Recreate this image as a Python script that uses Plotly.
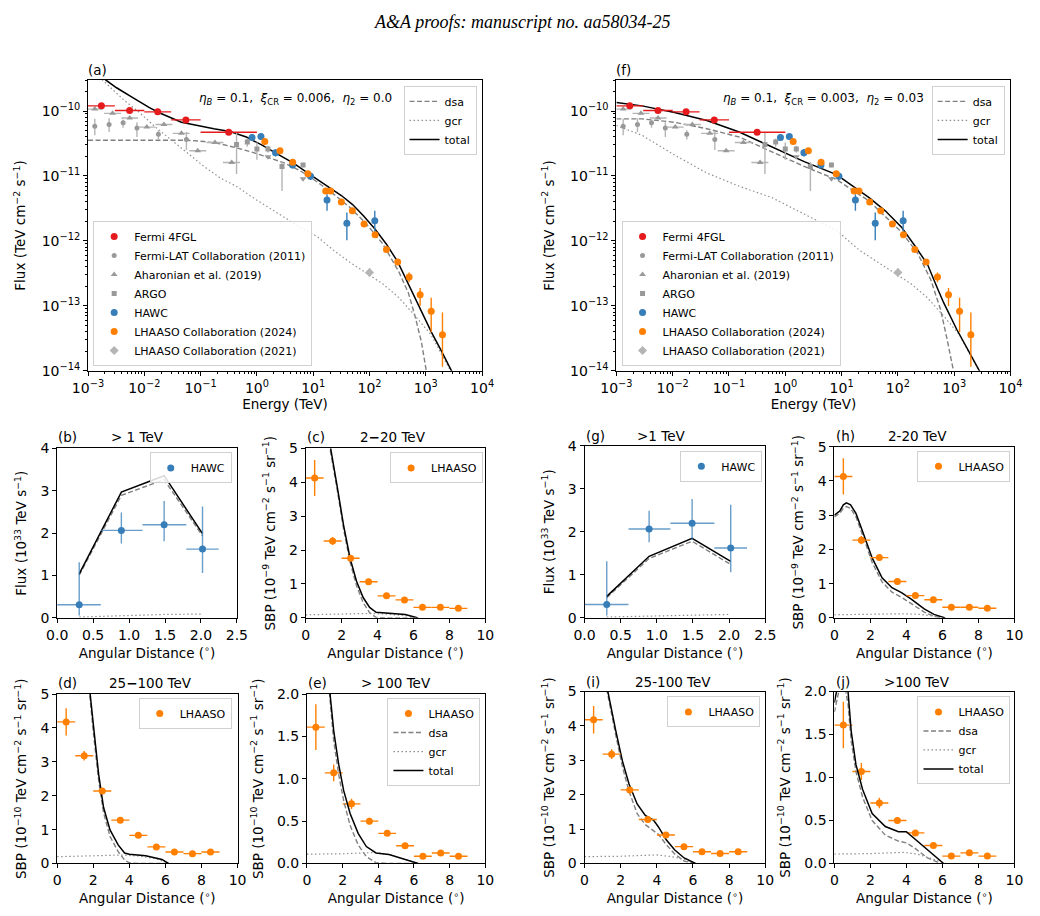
import plotly.graph_objects as go

W, H = 1040, 916
FONT = "DejaVu Sans"

# ---------------- SED data (E in TeV, flux in TeV cm^-2 s^-1) ----------------
fermi4fgl_E = [0.00173, 0.00548, 0.0173, 0.0548, 0.316]
fermi4fgl_Elo = [0.001, 0.003, 0.01, 0.03, 0.1]
fermi4fgl_Ehi = [0.003, 0.01, 0.03, 0.1, 1.0]
fermi4fgl_F = [1.20e-10, 1.02e-10, 0.97e-10, 7.3e-11, 4.7e-11]

fermilat11_E = [1.32e-3, 2.37e-3, 4.2e-3, 7.4e-3, 1.78e-2, 5.6e-2]
fermilat11_F = [5.85e-11, 6.2e-11, 6.6e-11, 5.5e-11, 4.4e-11, 3.64e-11]
fermilat11_Fhi = [7.57e-11, 7.73e-11, 7.38e-11, 6.71e-11, 5.04e-11, 4.74e-11]
fermilat11_Flo = [4.23e-11, 4.74e-11, 5.52e-11, 3.98e-11, 3.64e-11, 2.5e-11]

aharonian_E = [1.32e-3, 2.73e-3, 5.5e-3, 1.11e-2, 2.23e-2, 4.56e-2, 8.9e-2, 0.18, 0.357]
aharonian_Elo = [0.93e-3, 1.93e-3, 3.9e-3, 7.9e-3, 1.58e-2, 3.2e-2, 6.3e-2, 0.127, 0.25]
aharonian_Ehi = [1.86e-3, 3.86e-3, 7.8e-3, 1.57e-2, 3.15e-2, 6.4e-2, 0.126, 0.254, 0.50]
aharonian_F = [1.07e-10, 9.2e-11, 7.8e-11, 5.65e-11, 6.2e-11, 4.53e-11, 2.44e-11, 3.27e-11, 1.61e-11]

argo_E = [0.435, 0.675, 1.0, 1.57, 2.79, 6.6]
argo_F = [3.05e-11, 3.34e-11, 2.6e-11, 2.6e-11, 1.4e-11, 1.48e-11]
argo_Fhi = [4.74e-11, 3.77e-11, 3.27e-11, 2.93e-11, 1.66e-11, 1.6e-11]
argo_Flo = [1.07e-11, 2.82e-11, 1.77e-11, 2.29e-11, 5.85e-12, 1.36e-11]
argo_ul_E = [1.57, 6.6]
argo_ul_F = [1.98e-11, 9.1e-12]

hawc_E = [0.82, 1.18, 2.14, 4.3, 8.97, 17.6, 39.6, 124]
hawc_F = [3.9e-11, 4.04e-11, 2.28e-11, 1.48e-11, 9.9e-12, 4.27e-12, 1.87e-12, 2.05e-12]
hawc_Fhi = [4.4e-11, 4.5e-11, 2.6e-11, 1.7e-11, 1.12e-11, 5.21e-12, 2.75e-12, 2.91e-12]
hawc_Flo = [3.45e-11, 3.6e-11, 2.0e-11, 1.3e-11, 8.7e-12, 2.91e-12, 1.02e-12, 1.29e-12]

lhaaso24_E = [1.38, 2.57, 4.32, 8.05, 16.7, 20.4, 31.6, 49.6, 80, 125.6, 200, 317, 505, 793, 1247, 1977]
lhaaso24_F = [3.39e-11, 2.44e-11, 1.63e-11, 1.08e-11, 5.85e-12, 5.85e-12, 3.98e-12, 2.91e-12,
              1.83e-12, 1.24e-12, 7.38e-13, 4.74e-13, 2.78e-13, 1.48e-13, 8.28e-14, 3.59e-14]
lhaaso24_Fhi = [3.5e-11, 2.52e-11, 1.68e-11, 1.11e-11, 6.0e-12, 6.0e-12, 4.1e-12, 3.0e-12,
                1.9e-12, 1.3e-12, 7.8e-13, 5.1e-13, 3.27e-13, 1.89e-13, 1.34e-13, 7.9e-14]
lhaaso24_Flo = [3.28e-11, 2.36e-11, 1.58e-11, 1.05e-11, 5.7e-12, 5.7e-12, 3.86e-12, 2.82e-12,
                1.76e-12, 1.18e-12, 6.96e-13, 4.4e-13, 2.31e-13, 1.0e-13, 3.93e-14, 1.16e-14]

lhaaso21_E = [100.0]
lhaaso21_F = [3.27e-13]
lhaaso21_Fhi = [3.8e-13]
lhaaso21_Flo = [2.8e-13]

# ---------------- SED models ----------------
a_total_E = [2.02e-3, 3.21e-3, 6.24e-3, 1.21e-2, 1.80e-2, 4.56e-2, 0.172, 0.333, 0.649, 1.26, 2.51,
             4.47, 7.94, 15.8, 31.6, 50.1, 79.4, 126, 200, 316, 501, 641, 794, 1250, 1860, 2750, 2950]
a_total_F = [3.05e-10, 2.28e-10, 1.61e-10, 1.135e-10, 9.5e-11, 6.7e-11, 5.33e-11, 4.85e-11, 3.98e-11,
             2.95e-11, 2.09e-11, 1.58e-11, 1.12e-11, 7.4e-12, 5.0e-12, 3.63e-12, 2.4e-12, 1.51e-12,
             8.9e-13, 4.79e-13, 2.09e-13, 1.32e-13, 8.9e-14, 3.98e-14, 2.09e-14, 1.07e-14, 9.5e-15]
a_dsa_E = [1.0e-3, 5.96e-2, 0.115, 0.224, 0.436, 0.843, 1.64, 3.18, 6.17, 12.0, 23.3, 45.1,
           87.7, 171, 330, 491, 641, 836, 1021]
a_dsa_F = [3.55e-11, 3.55e-11, 3.39e-11, 3.12e-11, 2.71e-11, 2.31e-11, 1.91e-11, 1.57e-11, 1.17e-11,
           8.0e-12, 5.21e-12, 3.27e-12, 1.83e-12, 9.1e-13, 3.39e-13, 1.58e-13, 7.05e-14, 2.78e-14, 1.0e-14]
a_gcr_E = [1.77e-3, 4.19e-3, 8.15e-3, 1.58e-2, 3.06e-2, 5.96e-2, 0.115, 0.224, 0.436, 0.843, 1.64,
           3.18, 6.17, 12.0, 23.3, 44.7, 87.7, 171, 330, 641, 1250, 1860, 2750]
a_gcr_F = [3.05e-10, 1.52e-10, 9.5e-11, 5.65e-11, 3.55e-11, 2.23e-11, 1.40e-11, 9.3e-12, 6.9e-12,
           4.65e-12, 3.27e-12, 2.31e-12, 1.58e-12, 1.15e-12, 7.1e-13, 4.7e-13, 3.2e-13, 2.19e-13,
           1.35e-13, 7.1e-14, 3.55e-14, 1.9e-14, 1.0e-14]

f_total_E = [1.0e-3, 2.85e-3, 1.08e-2, 4.05e-2, 0.152, 0.575, 2.17, 8.15, 15.8, 30.8, 59.7, 116, 197,
             335, 499, 650, 1107, 1648, 2820, 3000]
f_total_F = [1.35e-10, 1.20e-10, 9.5e-11, 7.13e-11, 4.74e-11, 2.81e-11, 1.66e-11, 1.05e-11, 6.95e-12,
             4.65e-12, 2.91e-12, 1.63e-12, 8.6e-13, 4.37e-13, 1.9e-13, 1.12e-13, 4.37e-14, 2.34e-14,
             1.0e-14, 9.0e-15]
f_dsa_E = [1.0e-3, 2.85e-3, 1.08e-2, 4.05e-2, 0.152, 0.575, 2.17, 8.15, 30.8, 116, 225, 384, 571, 745, 971]
f_dsa_F = [7.57e-11, 7.57e-11, 6.71e-11, 5.33e-11, 3.98e-11, 2.36e-11, 1.4e-11, 8.8e-12, 4.12e-12,
           1.37e-12, 6.43e-13, 2.53e-13, 8.87e-14, 3.12e-14, 1.0e-14]
f_gcr_E = [1.0e-3, 2.85e-3, 1.08e-2, 4.05e-2, 0.152, 0.575, 2.17, 8.15, 20.7, 44.7, 87.7, 171, 330,
           641, 1250, 1860, 2750]
f_gcr_F = [5.98e-11, 4.23e-11, 2.1e-11, 1.11e-11, 6.95e-12, 4.65e-12, 2.59e-12, 1.45e-12, 7.2e-13,
           4.7e-13, 3.2e-13, 2.19e-13, 1.35e-13, 7.1e-14, 3.55e-14, 1.9e-14, 1.0e-14]

# ---------------- Profile data ----------------
hawc_r = [0.307, 0.893, 1.488, 2.022]
hawc_r_lo = [0.0, 0.608, 1.187, 1.796]
hawc_r_hi = [0.607, 1.187, 1.796, 2.247]
hawc_prof = [0.311, 2.065, 2.197, 1.624]
hawc_prof_hi = [1.315, 2.49, 2.76, 2.63]
hawc_prof_lo = [0.056, 1.756, 1.81, 1.06]

lh_r = [0.5, 1.5, 2.5, 3.5, 4.5, 5.5, 6.5, 7.5, 8.5]
lh_r_err = [0.5, 0.5, 0.5, 0.5, 0.5, 0.5, 0.5, 0.5, 0.5]
lh_2_20 = [4.13, 2.27, 1.76, 1.064, 0.65, 0.53, 0.31, 0.31, 0.28]
lh_2_20_err = [0.53, 0.12, 0.06, 0.05, 0.04, 0.04, 0.03, 0.03, 0.03]
lh_25_100 = [4.18, 3.18, 2.14, 1.28, 0.83, 0.49, 0.34, 0.29, 0.34]
lh_25_100_err = [0.4, 0.14, 0.08, 0.06, 0.05, 0.05, 0.05, 0.05, 0.05]
lh_100 = [1.61, 1.07, 0.704, 0.5, 0.356, 0.209, 0.086, 0.124, 0.086]
lh_100_err = [0.27, 0.1, 0.06, 0.04, 0.03, 0.03, 0.02, 0.02, 0.02]

# ---------------- Profile models ----------------
b_x = [0.307, 0.893, 1.488, 2.022]
b_total = [1.037, 2.97, 3.357, 1.988]
b_dsa = [1.007, 2.893, 3.264, 1.935]
b_gcr = [0.02, 0.05, 0.08, 0.09]
g_total = [0.5, 1.43, 1.85, 1.31]
g_dsa = [0.47, 1.38, 1.78, 1.24]
g_gcr = [0.02, 0.04, 0.07, 0.08]

c_tot_x = [1.25, 1.39, 1.75, 2.11, 2.47, 2.83, 3.2, 3.56, 3.92, 4.5, 5.54, 6.26]
c_tot_y = [5.6, 5.0, 3.89, 2.73, 1.76, 1.08, 0.6, 0.31, 0.165, 0.14, 0.1, 0.0]
c_dsa_x = [1.22, 1.35, 1.75, 2.11, 2.47, 2.83, 3.2, 3.56, 3.92, 4.5, 6.2]
c_dsa_y = [5.6, 5.0, 3.8, 2.62, 1.65, 0.95, 0.45, 0.15, 0.01, 0.0, 0.0]
c_gcr_x = [0, 2, 3.6, 4.5, 5.5, 6.2]
c_gcr_y = [0.09, 0.11, 0.13, 0.11, 0.07, 0.0]

d_tot_x = [1.75, 1.82, 2.03, 2.3, 2.57, 2.93, 3.38, 3.74, 4.0, 4.91, 5.81, 6.17]
d_tot_y = [5.4, 5.0, 3.98, 2.63, 1.66, 0.99, 0.55, 0.31, 0.27, 0.23, 0.12, 0.0]
d_dsa_x = [1.73, 1.8, 2.0, 2.3, 2.57, 2.93, 3.38, 3.74, 4.0, 4.5, 6.2]
d_dsa_y = [5.4, 5.0, 3.9, 2.45, 1.5, 0.8, 0.35, 0.1, 0.02, 0.0, 0.0]
d_gcr_x = [0, 2, 3.6, 4.5, 5.5, 6.2]
d_gcr_y = [0.2, 0.22, 0.25, 0.22, 0.14, 0.0]

e_tot_x = [1.2, 1.29, 1.51, 1.78, 2.06, 2.42, 2.87, 3.33, 3.87, 4.6, 5.51, 6.24]
e_tot_y = [2.2, 2.0, 1.55, 1.17, 0.86, 0.59, 0.356, 0.2, 0.124, 0.105, 0.046, 0.0]
e_dsa_x = [1.18, 1.27, 1.5, 1.78, 2.06, 2.42, 2.87, 3.33, 3.87, 4.5, 6.2]
e_dsa_y = [2.2, 2.0, 1.45, 1.05, 0.74, 0.45, 0.22, 0.08, 0.01, 0.0, 0.0]
e_gcr_x = [0, 2, 3.8, 4.6, 5.5, 6.2]
e_gcr_y = [0.11, 0.115, 0.13, 0.105, 0.05, 0.0]

h_tot_x = [0, 0.3, 0.5, 0.67, 0.9, 1.2, 1.57, 2.1, 2.65, 3.2, 3.73, 4.27, 4.99, 5.53, 6.16]
h_tot_y = [3.0, 3.12, 3.3, 3.36, 3.3, 3.05, 2.52, 1.75, 1.17, 0.88, 0.74, 0.55, 0.26, 0.1, 0.0]
h_dsa_x = [0, 0.3, 0.5, 0.67, 0.9, 1.2, 1.57, 2.1, 2.65, 3.2, 3.73, 4.27, 4.99, 5.53, 6.1]
h_dsa_y = [2.95, 3.05, 3.2, 3.25, 3.2, 2.95, 2.42, 1.62, 1.05, 0.75, 0.6, 0.42, 0.17, 0.04, 0.0]
h_gcr_x = [0, 2, 3.9, 4.8, 5.5, 6.2]
h_gcr_y = [0.09, 0.1, 0.12, 0.1, 0.05, 0.0]

i_tot_x = [1.2, 1.29, 1.74, 2.1, 2.46, 2.91, 3.36, 3.81, 4.08, 4.52, 4.98, 5.51, 6.14]
i_tot_y = [5.5, 5.0, 3.83, 2.97, 2.31, 1.73, 1.4, 1.26, 1.07, 0.69, 0.4, 0.16, 0.0]
i_dsa_x = [1.18, 1.25, 1.74, 2.1, 2.46, 2.91, 3.36, 3.81, 4.08, 4.52, 4.98, 5.51, 6.1]
i_dsa_y = [5.3, 5.0, 3.7, 2.8, 2.1, 1.45, 1.13, 0.97, 0.85, 0.55, 0.28, 0.07, 0.0]
i_gcr_x = [0, 2, 4, 4.8, 5.5, 6.2]
i_gcr_y = [0.2, 0.21, 0.25, 0.2, 0.12, 0.0]

j_tot_x = [0, 0.2, 0.4, 0.6, 0.76, 0.94, 1.2, 1.57, 2.1, 2.83, 3.56, 4.0, 4.46, 5.17, 6.07]
j_tot_y = [1.87, 2.1, 2.3, 2.2, 2.0, 1.53, 1.15, 0.86, 0.58, 0.43, 0.37, 0.37, 0.29, 0.16, 0.0]
j_dsa_x = [0, 0.2, 0.4, 0.6, 0.76, 0.94, 1.2, 1.57, 2.1, 2.83, 3.56, 4.0, 4.46, 5.17, 5.9]
j_dsa_y = [1.76, 1.95, 2.15, 2.05, 1.85, 1.42, 1.07, 0.77, 0.5, 0.33, 0.26, 0.24, 0.18, 0.065, 0.0]
j_gcr_x = [0, 2, 3.9, 4.6, 5.5, 6.2]
j_gcr_y = [0.11, 0.115, 0.13, 0.11, 0.05, 0.0]

# ---------------- styles ----------------
RED = "#e41a1c"
BLUE = "#377eb8"
ORANGE = "#ff7f00"
GRAY = "#999999"
LGRAY = "#b5b5b5"
DSA_DASH = "5px,2.5px"
GCR_DOT = "1.5px,2.5px"

fig = go.Figure()


def dom_x(p0, p1):
    return [p0 / W, p1 / W]


def dom_y(top, bottom):
    return [1 - bottom / H, 1 - top / H]


def asym(v, hi, lo):
    return [h - x for h, x in zip(hi, v)], [x - l for l, x in zip(lo, v)]


def add_sed(ax, tot_E, tot_F, dsa_E, dsa_F, gcr_E, gcr_F, leg_top, leg_bot):
    xa = "x" if ax == 1 else f"x{ax}"
    ya = "y" if ax == 1 else f"y{ax}"
    # models
    fig.add_trace(go.Scatter(x=dsa_E, y=dsa_F, mode="lines", name="dsa", xaxis=xa, yaxis=ya,
                             line=dict(color="#808080", width=1.4, dash=DSA_DASH), legend=leg_top))
    fig.add_trace(go.Scatter(x=gcr_E, y=gcr_F, mode="lines", name="gcr", xaxis=xa, yaxis=ya,
                             line=dict(color="#909090", width=1.2, dash=GCR_DOT), legend=leg_top))
    fig.add_trace(go.Scatter(x=tot_E, y=tot_F, mode="lines", name="total", xaxis=xa, yaxis=ya,
                             line=dict(color="black", width=1.5), legend=leg_top))
    # data
    up, dn = asym(fermilat11_F, fermilat11_Fhi, fermilat11_Flo)
    fig.add_trace(go.Scatter(x=fermilat11_E, y=fermilat11_F, mode="markers", xaxis=xa, yaxis=ya,
                             name="Fermi-LAT Collaboration (2011)", legend=leg_bot, legendrank=2,
                             marker=dict(color=GRAY, size=5, symbol="circle"),
                             error_y=dict(type="data", symmetric=False, array=up, arrayminus=dn,
                                          color=LGRAY, thickness=1.4, width=0)))
    xu, xd = asym(aharonian_E, aharonian_Ehi, aharonian_Elo)
    fig.add_trace(go.Scatter(x=aharonian_E, y=aharonian_F, mode="markers", xaxis=xa, yaxis=ya,
                             name="Aharonian et al. (2019)", legend=leg_bot, legendrank=3,
                             marker=dict(color=GRAY, size=6, symbol="triangle-up"),
                             error_x=dict(type="data", symmetric=False, array=xu, arrayminus=xd,
                                          color=LGRAY, thickness=1.4, width=0)))
    up, dn = asym(argo_F, argo_Fhi, argo_Flo)
    fig.add_trace(go.Scatter(x=argo_E, y=argo_F, mode="markers", xaxis=xa, yaxis=ya,
                             name="ARGO", legend=leg_bot, legendrank=4,
                             marker=dict(color=GRAY, size=5, symbol="square"),
                             error_y=dict(type="data", symmetric=False, array=up, arrayminus=dn,
                                          color=LGRAY, thickness=1.4, width=0)))
    fig.add_trace(go.Scatter(x=argo_ul_E, y=argo_ul_F, mode="markers", xaxis=xa, yaxis=ya,
                             showlegend=False, marker=dict(color=GRAY, size=6, symbol="triangle-down")))
    up, dn = asym(hawc_F, hawc_Fhi, hawc_Flo)
    fig.add_trace(go.Scatter(x=hawc_E, y=hawc_F, mode="markers", xaxis=xa, yaxis=ya,
                             name="HAWC", legend=leg_bot, legendrank=5,
                             marker=dict(color=BLUE, size=7, symbol="circle"),
                             error_y=dict(type="data", symmetric=False, array=up, arrayminus=dn,
                                          color=BLUE, thickness=1.4, width=0)))
    up, dn = asym(lhaaso24_F, lhaaso24_Fhi, lhaaso24_Flo)
    fig.add_trace(go.Scatter(x=lhaaso24_E, y=lhaaso24_F, mode="markers", xaxis=xa, yaxis=ya,
                             name="LHAASO Collaboration (2024)", legend=leg_bot, legendrank=6,
                             marker=dict(color=ORANGE, size=7, symbol="circle"),
                             error_y=dict(type="data", symmetric=False, array=up, arrayminus=dn,
                                          color=ORANGE, thickness=1.4, width=0)))
    up, dn = asym(lhaaso21_F, lhaaso21_Fhi, lhaaso21_Flo)
    fig.add_trace(go.Scatter(x=lhaaso21_E, y=lhaaso21_F, mode="markers", xaxis=xa, yaxis=ya,
                             name="LHAASO Collaboration (2021)", legend=leg_bot, legendrank=7,
                             marker=dict(color=LGRAY, size=7, symbol="diamond"),
                             error_y=dict(type="data", symmetric=False, array=up, arrayminus=dn,
                                          color=LGRAY, thickness=1.4, width=0)))
    xu, xd = asym(fermi4fgl_E, fermi4fgl_Ehi, fermi4fgl_Elo)
    fig.add_trace(go.Scatter(x=fermi4fgl_E, y=fermi4fgl_F, mode="markers", xaxis=xa, yaxis=ya,
                             name="Fermi 4FGL", legend=leg_bot, legendrank=1,
                             marker=dict(color=RED, size=7, symbol="circle"),
                             error_x=dict(type="data", symmetric=False, array=xu, arrayminus=xd,
                                          color=RED, thickness=1.4, width=0)))


add_sed(1, a_total_E, a_total_F, a_dsa_E, a_dsa_F, a_gcr_E, a_gcr_F, "legend", "legend2")
add_sed(2, f_total_E, f_total_F, f_dsa_E, f_dsa_F, f_gcr_E, f_gcr_F, "legend3", "legend4")


def add_models(ax, tx, ty, dx, dy, gx, gy, leg=None):
    xa, ya = f"x{ax}", f"y{ax}"
    show = leg is not None
    fig.add_trace(go.Scatter(x=dx, y=dy, mode="lines", name="dsa", xaxis=xa, yaxis=ya,
                             showlegend=show, legend=leg or "legend", legendrank=2,
                             line=dict(color="#808080", width=1.4, dash=DSA_DASH)))
    fig.add_trace(go.Scatter(x=gx, y=gy, mode="lines", name="gcr", xaxis=xa, yaxis=ya,
                             showlegend=show, legend=leg or "legend", legendrank=3,
                             line=dict(color="#909090", width=1.2, dash=GCR_DOT)))
    fig.add_trace(go.Scatter(x=tx, y=ty, mode="lines", name="total", xaxis=xa, yaxis=ya,
                             showlegend=show, legend=leg or "legend", legendrank=4,
                             line=dict(color="black", width=1.5)))


def add_hawc(ax, leg):
    xa, ya = f"x{ax}", f"y{ax}"
    up, dn = asym(hawc_prof, hawc_prof_hi, hawc_prof_lo)
    xu, xd = asym(hawc_r, hawc_r_hi, hawc_r_lo)
    fig.add_trace(go.Scatter(x=hawc_r, y=hawc_prof, mode="markers", name="HAWC", xaxis=xa, yaxis=ya,
                             legend=leg, marker=dict(color=BLUE, size=7),
                             error_y=dict(type="data", symmetric=False, array=up, arrayminus=dn,
                                          color="rgba(55,126,184,0.75)", thickness=1.4, width=0),
                             error_x=dict(type="data", symmetric=False, array=xu, arrayminus=xd,
                                          color="rgba(55,126,184,0.75)", thickness=1.4, width=0)))


def add_lhaaso(ax, yv, ye, leg):
    xa, ya = f"x{ax}", f"y{ax}"
    fig.add_trace(go.Scatter(x=lh_r, y=yv, mode="markers", name="LHAASO", xaxis=xa, yaxis=ya,
                             legend=leg, legendrank=1, marker=dict(color=ORANGE, size=7),
                             error_y=dict(type="data", array=ye, color=ORANGE, thickness=1.4, width=0),
                             error_x=dict(type="data", array=lh_r_err, color=ORANGE, thickness=1.4,
                                          width=0)))


# b (3), c (4), g (5), h (6), d (7), e (8), i (9), j (10)
add_models(3, b_x, b_total, b_x, b_dsa, b_x, b_gcr)
add_hawc(3, "legend5")
add_models(4, c_tot_x, c_tot_y, c_dsa_x, c_dsa_y, c_gcr_x, c_gcr_y)
add_lhaaso(4, lh_2_20, lh_2_20_err, "legend6")
add_models(5, b_x, g_total, b_x, g_dsa, b_x, g_gcr)
add_hawc(5, "legend7")
add_models(6, h_tot_x, h_tot_y, h_dsa_x, h_dsa_y, h_gcr_x, h_gcr_y)
add_lhaaso(6, lh_2_20, lh_2_20_err, "legend8")
add_models(7, d_tot_x, d_tot_y, d_dsa_x, d_dsa_y, d_gcr_x, d_gcr_y)
add_lhaaso(7, lh_25_100, lh_25_100_err, "legend9")
add_lhaaso(8, lh_100, lh_100_err, "legend10")
add_models(8, e_tot_x, e_tot_y, e_dsa_x, e_dsa_y, e_gcr_x, e_gcr_y, leg="legend10")
add_models(9, i_tot_x, i_tot_y, i_dsa_x, i_dsa_y, i_gcr_x, i_gcr_y)
add_lhaaso(9, lh_25_100, lh_25_100_err, "legend11")
add_lhaaso(10, lh_100, lh_100_err, "legend12")
add_models(10, j_tot_x, j_tot_y, j_dsa_x, j_dsa_y, j_gcr_x, j_gcr_y, leg="legend12")

# ---------------- axes ----------------
TICKFONT = dict(family=FONT, size=14, color="black")
TITLEFONT = dict(family=FONT, size=13.5, color="black")
base_axis = dict(showline=True, linecolor="black", linewidth=1, mirror=True, ticks="outside",
                 ticklen=4, tickwidth=1, tickcolor="black", showgrid=False, zeroline=False,
                 tickfont=TICKFONT)

decades_x = [-3, -2, -1, 0, 1, 2, 3, 4]
decades_y = [-14, -13, -12, -11, -10]


def sup(p):
    return "10<sup>" + ("−" if p < 0 else "") + str(abs(p)) + "</sup>"


minor_x = [m * 10.0 ** p for p in range(-3, 4) for m in range(2, 10)]
minor_y = [m * 10.0 ** p for p in range(-14, -9) for m in range(2, 10)]

yt_sed = "Flux (TeV cm<sup>−2</sup> s<sup>−1</sup>)"
layout_axes = {}
for k, (x0, x1) in [(1, (74, 479)), (2, (617, 1022))]:
    xs = "xaxis" if k == 1 else f"xaxis{k}"
    ys = "yaxis" if k == 1 else f"yaxis{k}"
    layout_axes[xs] = dict(base_axis, type="log", range=[-3, 4], domain=dom_x(x0, x1),
                           anchor="y" if k == 1 else f"y{k}",
                           tickmode="array", tickvals=[10.0 ** p for p in decades_x],
                           ticktext=[sup(p) for p in decades_x],
                           minor=dict(tickmode="array", tickvals=minor_x, ticks="outside", ticklen=2,
                                      tickwidth=0.8, tickcolor="black"),
                           title=dict(text="Energy (TeV)", font=TITLEFONT, standoff=4))
    layout_axes[ys] = dict(base_axis, type="log", range=[-14, -9.5229], domain=dom_y(73.3, 369.3),
                           anchor="x" if k == 1 else f"x{k}",
                           tickmode="array", tickvals=[10.0 ** p for p in decades_y],
                           ticktext=[sup(p) for p in decades_y],
                           minor=dict(tickmode="array", tickvals=minor_y, ticks="outside", ticklen=2,
                                      tickwidth=0.8, tickcolor="black"),
                           title=dict(text=yt_sed, font=TITLEFONT, standoff=12))

xt_ang = "Angular Distance (<sup>∘</sup>)"
yt_b = "Flux (10<sup>33</sup> TeV s<sup>−1</sup>)"
yt_c = "SBP (10<sup>−9</sup> TeV cm<sup>−2</sup> s<sup>−1</sup> sr<sup>−1</sup>)"
yt_d = "SBP (10<sup>−10</sup> TeV cm<sup>−2</sup> s<sup>−1</sup> sr<sup>−1</sup>)"

small = {
    3: ((42.3, 227), (448.3, 620.7), [0, 2.5], 0.5, ".1f", [0, 4], 1, "", yt_b),
    4: ((297.7, 482.3), (448.3, 620.7), [0, 10], 2, "", [0, 5], 1, "", yt_c),
    5: ((584.3, 770), (445.5, 620.7), [0, 2.5], 0.5, ".1f", [0, 4], 1, "", yt_b),
    6: ((841, 1026), (446.5, 620.7), [0, 10], 2, "", [0, 5], 1, "", yt_c),
    7: ((42.3, 227.7), (698.3, 870.7), [0, 10], 2, "", [0, 5], 1, "", yt_d),
    8: ((299, 482.3), (698.3, 870.7), [0, 10], 2, "", [0, 2], 0.5, ".1f", yt_d),
    9: ((584.3, 770), (695.7, 870.7), [0, 10], 2, "", [0, 5], 1, "", yt_d),
    10: ((841, 1026), (695.7, 870.7), [0, 10], 2, "", [0, 2], 0.5, ".1f", yt_d),
}
for k, (xd, yd, xr, xdt, xf, yr, ydt, yf, yt) in small.items():
    layout_axes[f"xaxis{k}"] = dict(base_axis, range=xr, dtick=xdt, tick0=0, tickformat=xf,
                                    domain=dom_x(*xd), anchor=f"y{k}",
                                    title=dict(text=xt_ang, font=TITLEFONT, standoff=6))
    layout_axes[f"yaxis{k}"] = dict(base_axis, range=yr, dtick=ydt, tick0=0, tickformat=yf,
                                    domain=dom_y(*yd), anchor=f"x{k}",
                                    title=dict(text=yt, font=TITLEFONT, standoff=10))

# ---------------- legends ----------------
def leg(xp, yp, xanchor="right", yanchor="top"):
    return dict(x=xp / W, y=1 - yp / H, xanchor=xanchor, yanchor=yanchor, xref="paper", yref="paper",
                bgcolor="rgba(255,255,255,0.85)", bordercolor="#d0d0d0", borderwidth=1,
                font=dict(family=FONT, size=11, color="black"), itemwidth=30, tracegroupgap=0,
                traceorder="normal")


legends = dict(
    legend=leg(473.3, 79.3),
    legend2=leg(79.3, 364.3, "left", "bottom"),
    legend3=leg(1016, 79.3),
    legend4=leg(622.3, 364.3, "left", "bottom"),
    legend5=leg(221.7, 452.3),
    legend6=leg(480, 452.3),
    legend7=leg(767, 450.7),
    legend8=leg(1022, 450.7),
    legend9=leg(221.7, 702.3),
    legend10=leg(477.3, 702.3),
    legend11=leg(765, 700.7),
    legend12=leg(1022, 700.7),
)

# ---------------- annotations ----------------
ann = []


def text(s, xp, yp, xanchor="left", size=13.5, family=FONT, yanchor="middle"):
    ann.append(dict(text=s, x=xp / W, y=1 - yp / H, xref="paper", yref="paper", showarrow=False,
                    xanchor=xanchor, yanchor=yanchor, font=dict(family=family, size=size, color="black")))


text("<i>A&amp;A proofs:</i> <i>manuscript no. aa58034-25</i>", 520, 14, "center", 18, "Liberation Serif")
text("(a)", 72, 63)
text("(f)", 615, 63)
text("<i>η</i><sub><i>B</i></sub> = 0.1,  <i>ξ</i><sub>CR</sub> = 0.006,  <i>η</i><sub>2</sub> = 0.0",
     287.5, 92.3, "center", 12)
text("<i>η</i><sub><i>B</i></sub> = 0.1,  <i>ξ</i><sub>CR</sub> = 0.003,  <i>η</i><sub>2</sub> = 0.03",
     830, 92.3, "center", 12)
text("(b)", 41, 437)
text("&gt; 1 TeV", 125, 437, "center")
text("(c)", 297, 437)
text("2<b>−</b>20 TeV", 387, 437, "center")
text("(d)", 41, 687)
text("25<b>−</b>100 TeV", 138, 687, "center")
text("(e)", 298, 687)
text("&gt; 100 TeV", 390, 687, "center")
text("(g)", 584, 436)
text("&gt;1 TeV", 663, 436, "center")
text("(h)", 841, 436)
text("2-20 TeV", 926, 436, "center")
text("(i)", 584, 686)
text("25-100 TeV", 675, 686, "center")
text("(j)", 841, 686)
text("&gt;100 TeV", 926, 686, "center")

fig.update_layout(width=W, height=H, margin=dict(l=0, r=0, t=0, b=0), paper_bgcolor="white",
                  plot_bgcolor="white", font=dict(family=FONT, size=13, color="black"),
                  annotations=ann, **layout_axes, **legends)

fig.write_html("out.html")
